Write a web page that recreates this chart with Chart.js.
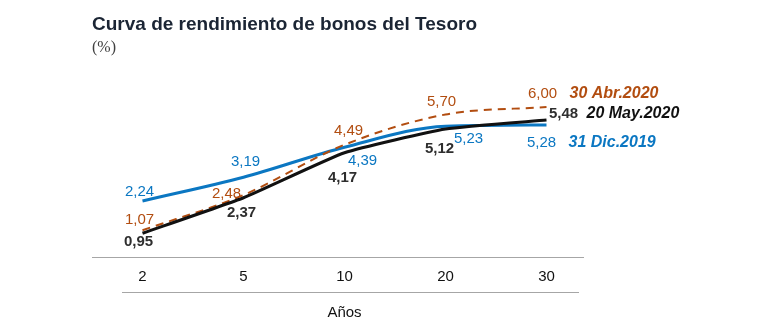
<!DOCTYPE html>
<html lang="es">
<head>
  <meta charset="UTF-8">
  <title>Curva de rendimiento de bonos del Tesoro</title>
  <script src="https://cdn.jsdelivr.net/npm/chart.js"></script>
  <style>
    html, body { margin: 0; padding: 0; background: #fff; }
    #wrap { width: 780px; height: 322px; }
  </style>
</head>
<body>
<div id="wrap"><canvas id="curveChart"></canvas></div>

<script>
  // plazos (años)
  const years = ['2', '5', '10', '20', '30'];
  // rendimientos (%)
  const dic2019 = [2.24, 3.19, 4.39, 5.23, 5.28];
  const abr2020 = [1.07, 2.48, 4.49, 5.70, 6.00];
  const may2020 = [0.95, 2.37, 4.17, 5.12, 5.48];
  const seriesNames = ['31 Dic.2019', '30 Abr.2020', '20 May.2020'];

  const BLUE = '#0b77c2';
  const BROWN = '#b24d10';
  const BLACK = '#111111';
  const FONT = '"Liberation Sans", Arial, sans-serif';

  // label offsets from each point [dx, dy], and series-name offset from the last point
  const labelStyle = [
    { color: BLUE, weight: 'normal', offs: [[-3, -9], [2, -15], [18, 14], [23, 13], [-5, 18]], name: [22, 18] },
    { color: BROWN, weight: 'normal', offs: [[-3, -10], [-17, -1], [4, -14], [-4, -13], [-4, -13]], name: [23, -13] },
    { color: '#2e2e2e', nameColor: BLACK, weight: 'bold', offs: [[-4, 9], [-2, 15], [-2, 25], [-6, 20], [17, -6]], name: [40, -6] }
  ];

  const fmt = v => v.toFixed(2).replace('.', ',');

  const pointLabels = {
    id: 'pointLabels',
    afterDatasetsDraw(chart) {
      const ctx = chart.ctx;
      ctx.save();
      ctx.textBaseline = 'middle';
      chart.data.datasets.forEach((ds, i) => {
        const st = labelStyle[i];
        const pts = chart.getDatasetMeta(i).data;
        ctx.font = st.weight + ' 15px ' + FONT;
        ctx.fillStyle = st.color;
        ctx.textAlign = 'center';
        pts.forEach((p, j) => {
          ctx.fillText(fmt(ds.data[j]), p.x + st.offs[j][0], p.y + st.offs[j][1]);
        });
        const last = pts[pts.length - 1];
        ctx.font = 'italic bold 16px ' + FONT;
        ctx.fillStyle = st.nameColor || st.color;
        ctx.textAlign = 'left';
        ctx.fillText(ds.label, last.x + st.name[0], last.y + st.name[1]);
      });
      ctx.restore();
    },
    afterDraw(chart) {
      // axis rules above and below the year labels
      const ctx = chart.ctx;
      const x = chart.scales.x;
      ctx.save();
      ctx.strokeStyle = '#a6a6a6';
      ctx.lineWidth = 1;
      ctx.beginPath();
      ctx.moveTo(92, Math.round(x.top) + 0.5);
      ctx.lineTo(584, Math.round(x.top) + 0.5);
      ctx.moveTo(122, Math.round(x.top) + 35.5);
      ctx.lineTo(579, Math.round(x.top) + 35.5);
      ctx.stroke();
      ctx.restore();
    }
  };

  const ctx = document.getElementById('curveChart').getContext('2d');
  new Chart(ctx, {
    type: 'line',
    data: {
      labels: years,
      datasets: [
        { label: seriesNames[0], data: dic2019, borderColor: BLUE, borderWidth: 3,
          cubicInterpolationMode: 'monotone', pointRadius: 0, order: 2 },
        { label: seriesNames[1], data: abr2020, borderColor: BROWN, borderWidth: 2,
          borderDash: [8, 6], cubicInterpolationMode: 'monotone', pointRadius: 0, order: 1 },
        { label: seriesNames[2], data: may2020, borderColor: BLACK, borderWidth: 3,
          tension: 0.15, pointRadius: 0, order: 0 }
      ]
    },
    options: {
      responsive: true,
      maintainAspectRatio: false,
      animation: false,
      layout: { padding: { left: 92, right: 183, top: 13, bottom: 0 } },
      plugins: {
        legend: { display: false },
        tooltip: { enabled: false },
        title: {
          display: true,
          text: 'Curva de rendimiento de bonos del Tesoro',
          align: 'start',
          color: '#1b2534',
          font: { family: FONT, size: 19, weight: 'bold' },
          padding: { top: 0, bottom: 0 }
        },
        subtitle: {
          display: true,
          text: '(%)',
          align: 'start',
          color: '#404040',
          font: { family: '"Liberation Serif", "Times New Roman", serif', size: 16 },
          padding: { top: 2, bottom: 0 }
        }
      },
      scales: {
        x: {
          offset: true,
          grid: { display: false, drawTicks: false },
          border: { display: false },
          ticks: { color: '#111', font: { family: FONT, size: 15 }, padding: 11 },
          title: { display: true, text: 'Años', color: '#111',
                   font: { family: FONT, size: 15 }, padding: { top: 7, bottom: 0 } }
        },
        y: {
          display: false,
          min: 0,
          max: 8
        }
      }
    },
    plugins: [pointLabels]
  });
</script>
</body>
</html>
